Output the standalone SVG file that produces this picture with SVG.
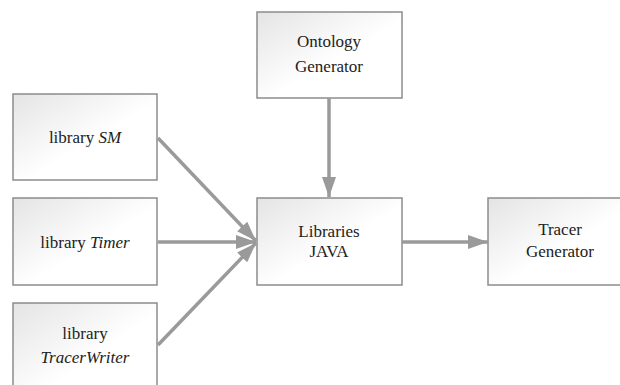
<svg xmlns="http://www.w3.org/2000/svg" width="620" height="385" viewBox="0 0 620 385">
<defs>
<linearGradient id="g" x1="0" y1="0" x2="1" y2="1">
<stop offset="0" stop-color="#e4e4e4"/>
<stop offset="0.55" stop-color="#ffffff"/>
<stop offset="1" stop-color="#ffffff"/>
</linearGradient>
<marker id="arr" viewBox="0 0 20 14" refX="20" refY="7" markerWidth="20" markerHeight="14" markerUnits="userSpaceOnUse" orient="auto">
<path d="M0,0 L20,7 L0,14 Z" fill="#9a9a9a"/>
</marker>
</defs>
<rect width="620" height="385" fill="#fff"/>
<g id="ontology">
<rect x="257" y="12" width="145" height="86" fill="url(#g)" stroke="#8c8c8c" stroke-width="1.5"/>
<text x="329" y="47" style="font-family:'Times New Roman','Liberation Serif',serif;font-size:17px" text-anchor="middle" fill="#222">Ontology</text>
<text x="329" y="72" style="font-family:'Times New Roman','Liberation Serif',serif;font-size:17px" text-anchor="middle" fill="#222">Generator</text>
</g>
<g id="librarySM">
<rect x="13" y="94" width="144" height="86" fill="url(#g)" stroke="#8c8c8c" stroke-width="1.5"/>
<text x="85" y="143" style="font-family:'Times New Roman','Liberation Serif',serif;font-size:17px" text-anchor="middle" fill="#222">library <tspan font-style="italic">SM</tspan></text>
</g>
<g id="libraryTimer">
<rect x="13" y="198" width="144" height="87" fill="url(#g)" stroke="#8c8c8c" stroke-width="1.5"/>
<text x="85" y="248" style="font-family:'Times New Roman','Liberation Serif',serif;font-size:17px" text-anchor="middle" fill="#222">library <tspan font-style="italic">Timer</tspan></text>
</g>
<g id="libraryTracerWriter">
<rect x="13" y="303" width="144" height="100" fill="url(#g)" stroke="#8c8c8c" stroke-width="1.5"/>
<text x="85" y="339" style="font-family:'Times New Roman','Liberation Serif',serif;font-size:17px" text-anchor="middle" fill="#222">library</text>
<text x="85" y="363" style="font-family:'Times New Roman','Liberation Serif',serif;font-size:17px;font-style:italic" text-anchor="middle" fill="#222">TracerWriter</text>
</g>
<g id="librariesJava">
<rect x="257" y="198" width="145" height="87" fill="url(#g)" stroke="#8c8c8c" stroke-width="1.5"/>
<text x="329" y="237" style="font-family:'Times New Roman','Liberation Serif',serif;font-size:17px" text-anchor="middle" fill="#222">Libraries</text>
<text x="329" y="257" style="font-family:'Times New Roman','Liberation Serif',serif;font-size:17px" text-anchor="middle" fill="#222">JAVA</text>
</g>
<g id="tracerGenerator">
<rect x="488" y="198" width="145" height="87" fill="url(#g)" stroke="#8c8c8c" stroke-width="1.5"/>
<text x="560" y="235" style="font-family:'Times New Roman','Liberation Serif',serif;font-size:17px" text-anchor="middle" fill="#222">Tracer</text>
<text x="560" y="257" style="font-family:'Times New Roman','Liberation Serif',serif;font-size:17px" text-anchor="middle" fill="#222">Generator</text>
</g>
<g id="connectors" stroke="#9a9a9a" stroke-width="3.5" fill="none" marker-end="url(#arr)">
<line x1="329" y1="98" x2="329" y2="197"/>
<line x1="158" y1="138" x2="256" y2="241"/>
<line x1="158" y1="242" x2="256" y2="242"/>
<line x1="158" y1="345" x2="256" y2="243"/>
<line x1="402" y1="242" x2="488" y2="242"/>
</g>
</svg>
